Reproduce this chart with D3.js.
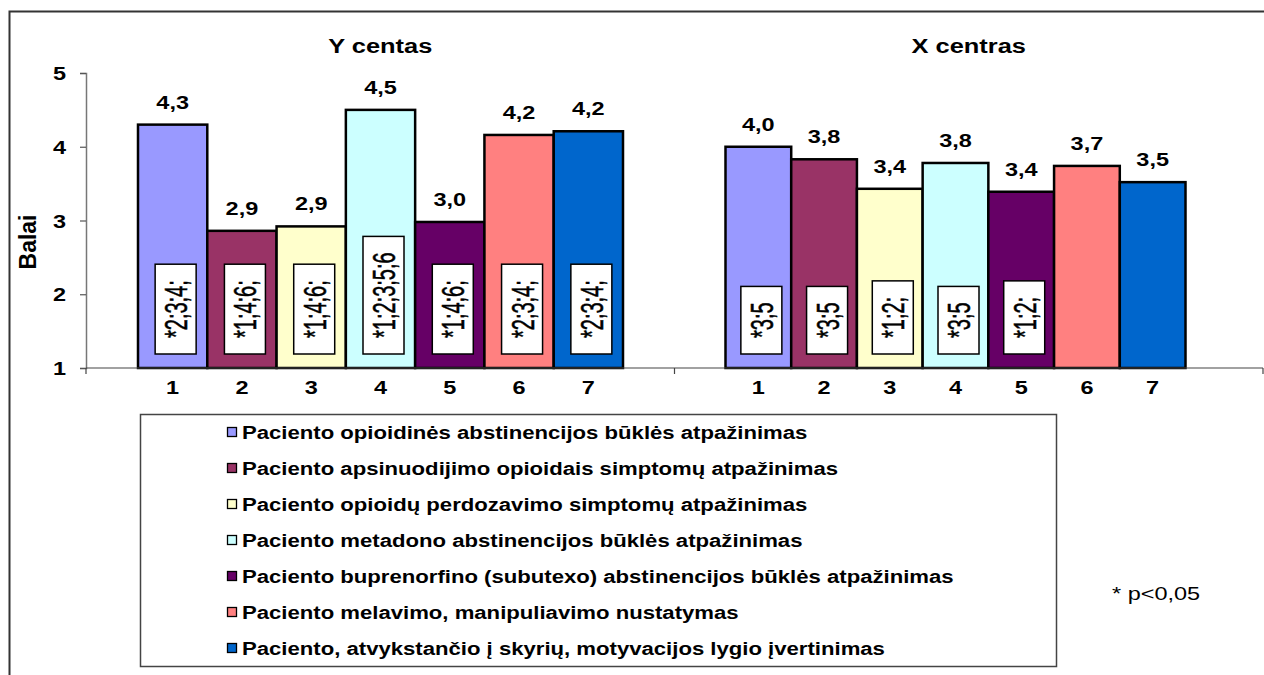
<!DOCTYPE html>
<html><head><meta charset="utf-8">
<script src="https://cdn.jsdelivr.net/npm/d3@7/dist/d3.min.js"></script>
<style>
body{margin:0;background:#fff;}
text{font-family:"Liberation Sans",Arial,Helvetica,sans-serif;fill:#000;}
</style>
</head><body>
<svg id="chart" width="1264" height="675"></svg>
<script>
// ---- data ----
const groups = ["Y centas", "X centras"];
const categories = ["1", "2", "3", "4", "5", "6", "7"];
const valuesY = [4.30, 2.86, 2.92, 4.50, 2.98, 4.16, 4.21];
const valuesX = [4.00, 3.83, 3.43, 3.78, 3.39, 3.74, 3.52];
const notesY = ["*2;3;4;", "*1;4;6;", "*1;4;6;", "*1;2;3;5;6", "*1;4;6;", "*2;3;4;", "*2;3;4;"];
const notesX = ["*3;5", "*3;5", "*1;2;", "*3;5", "*1;2;", "", ""];
const legendLabels = [
  "Paciento opioidinės abstinencijos būklės atpažinimas",
  "Paciento apsinuodijimo opioidais simptomų atpažinimas",
  "Paciento opioidų perdozavimo simptomų atpažinimas",
  "Paciento metadono abstinencijos būklės atpažinimas",
  "Paciento buprenorfino (subutexo) abstinencijos būklės atpažinimas",
  "Paciento melavimo, manipuliavimo nustatymas",
  "Paciento, atvykstančio į skyrių, motyvacijos lygio įvertinimas"
];
const colors = ["#9999FF", "#993366", "#FFFFCC", "#CCFFFF", "#660066", "#FF8080", "#0066CC"];
const yTicks = [1, 2, 3, 4, 5];
const yTitle = "Balai";
const footnote = "* p<0,05";

// ---- layout ----
const SX = 1.27; // horizontal glyph stretch of the original
const svg = d3.select("#chart");
const seriesByGroup = {"Y centas": valuesY, "X centras": valuesX};
const notesByGroup = {"Y centas": notesY, "X centras": notesX};
const innerInset = {"Y centas": [52, 537], "X centras": [51, 511]};

const y = d3.scaleLinear().domain([1, 5]).range([368, 73]);
const x0 = d3.scaleBand().domain(groups).range([86, 1263]).padding(0);
const inner = {};
groups.forEach(g => {
  inner[g] = d3.scaleBand().domain(categories)
    .range([x0(g) + innerInset[g][0], x0(g) + innerInset[g][1]]).padding(0);
});
const fmt = v => d3.format(".1f")(v).replace(".", ",");

function txt(parent, x, y, s, o = {}) {
  const t = parent.append("text")
    .attr("transform", `translate(${x},${y}) scale(${o.sx || SX},1)` + (o.rot ? ` rotate(${o.rot})` : ""))
    .attr("text-anchor", o.anchor || "middle")
    .style("font-size", (o.size || 18.5) + "px")
    .style("font-weight", o.bold === false ? "normal" : "bold")
    .text(s);
  return t;
}

// outer frame
svg.append("path").attr("d", "M9.5,675 L9.5,11.5 L1264,11.5")
  .attr("fill", "none").attr("stroke", "#333").attr("stroke-width", 2);

// bars
groups.forEach(g => {
  const xs = inner[g];
  const vals = seriesByGroup[g];
  const gg = svg.append("g");
  gg.selectAll("rect.bar").data(vals).join("rect")
    .attr("class", "bar")
    .attr("x", (d, i) => xs(categories[i]))
    .attr("y", d => y(d))
    .attr("width", xs.bandwidth())
    .attr("height", d => y(1) - y(d))
    .attr("fill", (d, i) => colors[i])
    .attr("stroke", "#000").attr("stroke-width", 2.5);
  // value labels
  vals.forEach((v, i) => {
    txt(gg, xs(categories[i]) + xs.bandwidth() / 2, y(v) - 16, fmt(v));
  });
  // category labels
  categories.forEach(c => {
    txt(gg, xs(c) + xs.bandwidth() / 2, 394, c);
  });
  // group titles
  txt(gg, x0(g) + x0.bandwidth() / 2, 53, g, {size: 20});
  // note boxes
  const NS = 20, NSX = 1.6;
  notesByGroup[g].forEach((n, i) => {
    if (!n) return;
    const cx = xs(categories[i]) + xs.bandwidth() / 2 + 3;
    const bottom = 354;
    const t = txt(gg, 0, 0, n, {bold: false, size: NS, rot: -90, anchor: "middle", sx: NSX})
      .attr("stroke", "#000").attr("stroke-width", 0.35);
    const len = t.node().getComputedTextLength();
    const h = len + 32, w = 41;
    gg.insert("rect", () => t.node())
      .attr("x", cx - w / 2).attr("y", bottom - h)
      .attr("width", w).attr("height", h)
      .attr("fill", "#fff").attr("stroke", "#000").attr("stroke-width", 1.5);
    t.attr("transform", `translate(${cx + 0.716 * NS * NSX / 2},${bottom - h / 2}) scale(${NSX},1) rotate(-90)`);
  });
});

// y axis
const yAxis = svg.append("g").attr("transform", "translate(86,0)")
  .call(d3.axisLeft(y).tickValues(yTicks).tickSize(6).tickFormat(d3.format("d")));
yAxis.attr("font-family", null).attr("font-size", null);
yAxis.select(".domain").attr("stroke", "#777").attr("stroke-width", 1.5);
yAxis.selectAll(".tick line").attr("stroke", "#555").attr("stroke-width", 1.2);
yAxis.selectAll(".tick text").each(function() {
  d3.select(this).attr("x", null).attr("dy", null).attr("text-anchor", "end")
    .attr("transform", `translate(-20,6.6) scale(${SX},1)`)
    .style("font-size", "18.5px").style("font-weight", "bold");
});

// x axis line with group boundary ticks
const xAxis = svg.append("g").attr("transform", `translate(0,${y(1)})`);
xAxis.append("line").attr("x1", x0.range()[0]).attr("x2", x0.range()[1])
  .attr("stroke", "#444").attr("stroke-width", 1.2);
const bounds = [x0(groups[0]), x0(groups[1]), x0(groups[1]) + x0.bandwidth()];
xAxis.selectAll("line.tk").data(bounds).join("line").attr("class", "tk")
  .attr("x1", d => d).attr("x2", d => d).attr("y1", 0).attr("y2", 6)
  .attr("stroke", "#444").attr("stroke-width", 1.2);

// y title
txt(svg, 36, 242, yTitle, {size: 23, rot: -90, sx: 1.08});

// legend
const lg = svg.append("g");
lg.append("rect").attr("x", 140.5).attr("y", 414.5).attr("width", 916).attr("height", 252)
  .attr("fill", "#fff").attr("stroke", "#444").attr("stroke-width", 1.5);
legendLabels.forEach((l, i) => {
  const cy = 432.5 + i * 36;
  lg.append("rect").attr("x", 227.5).attr("y", cy - 5).attr("width", 9).attr("height", 9)
    .attr("fill", colors[i]).attr("stroke", "#000").attr("stroke-width", 1.3);
  txt(lg, 242, cy + 6.6, l, {anchor: "start", size: 18, sx: 1.23});
});

// footnote
txt(svg, 1112, 600, footnote, {anchor: "start", bold: false});
</script>
</body></html>
